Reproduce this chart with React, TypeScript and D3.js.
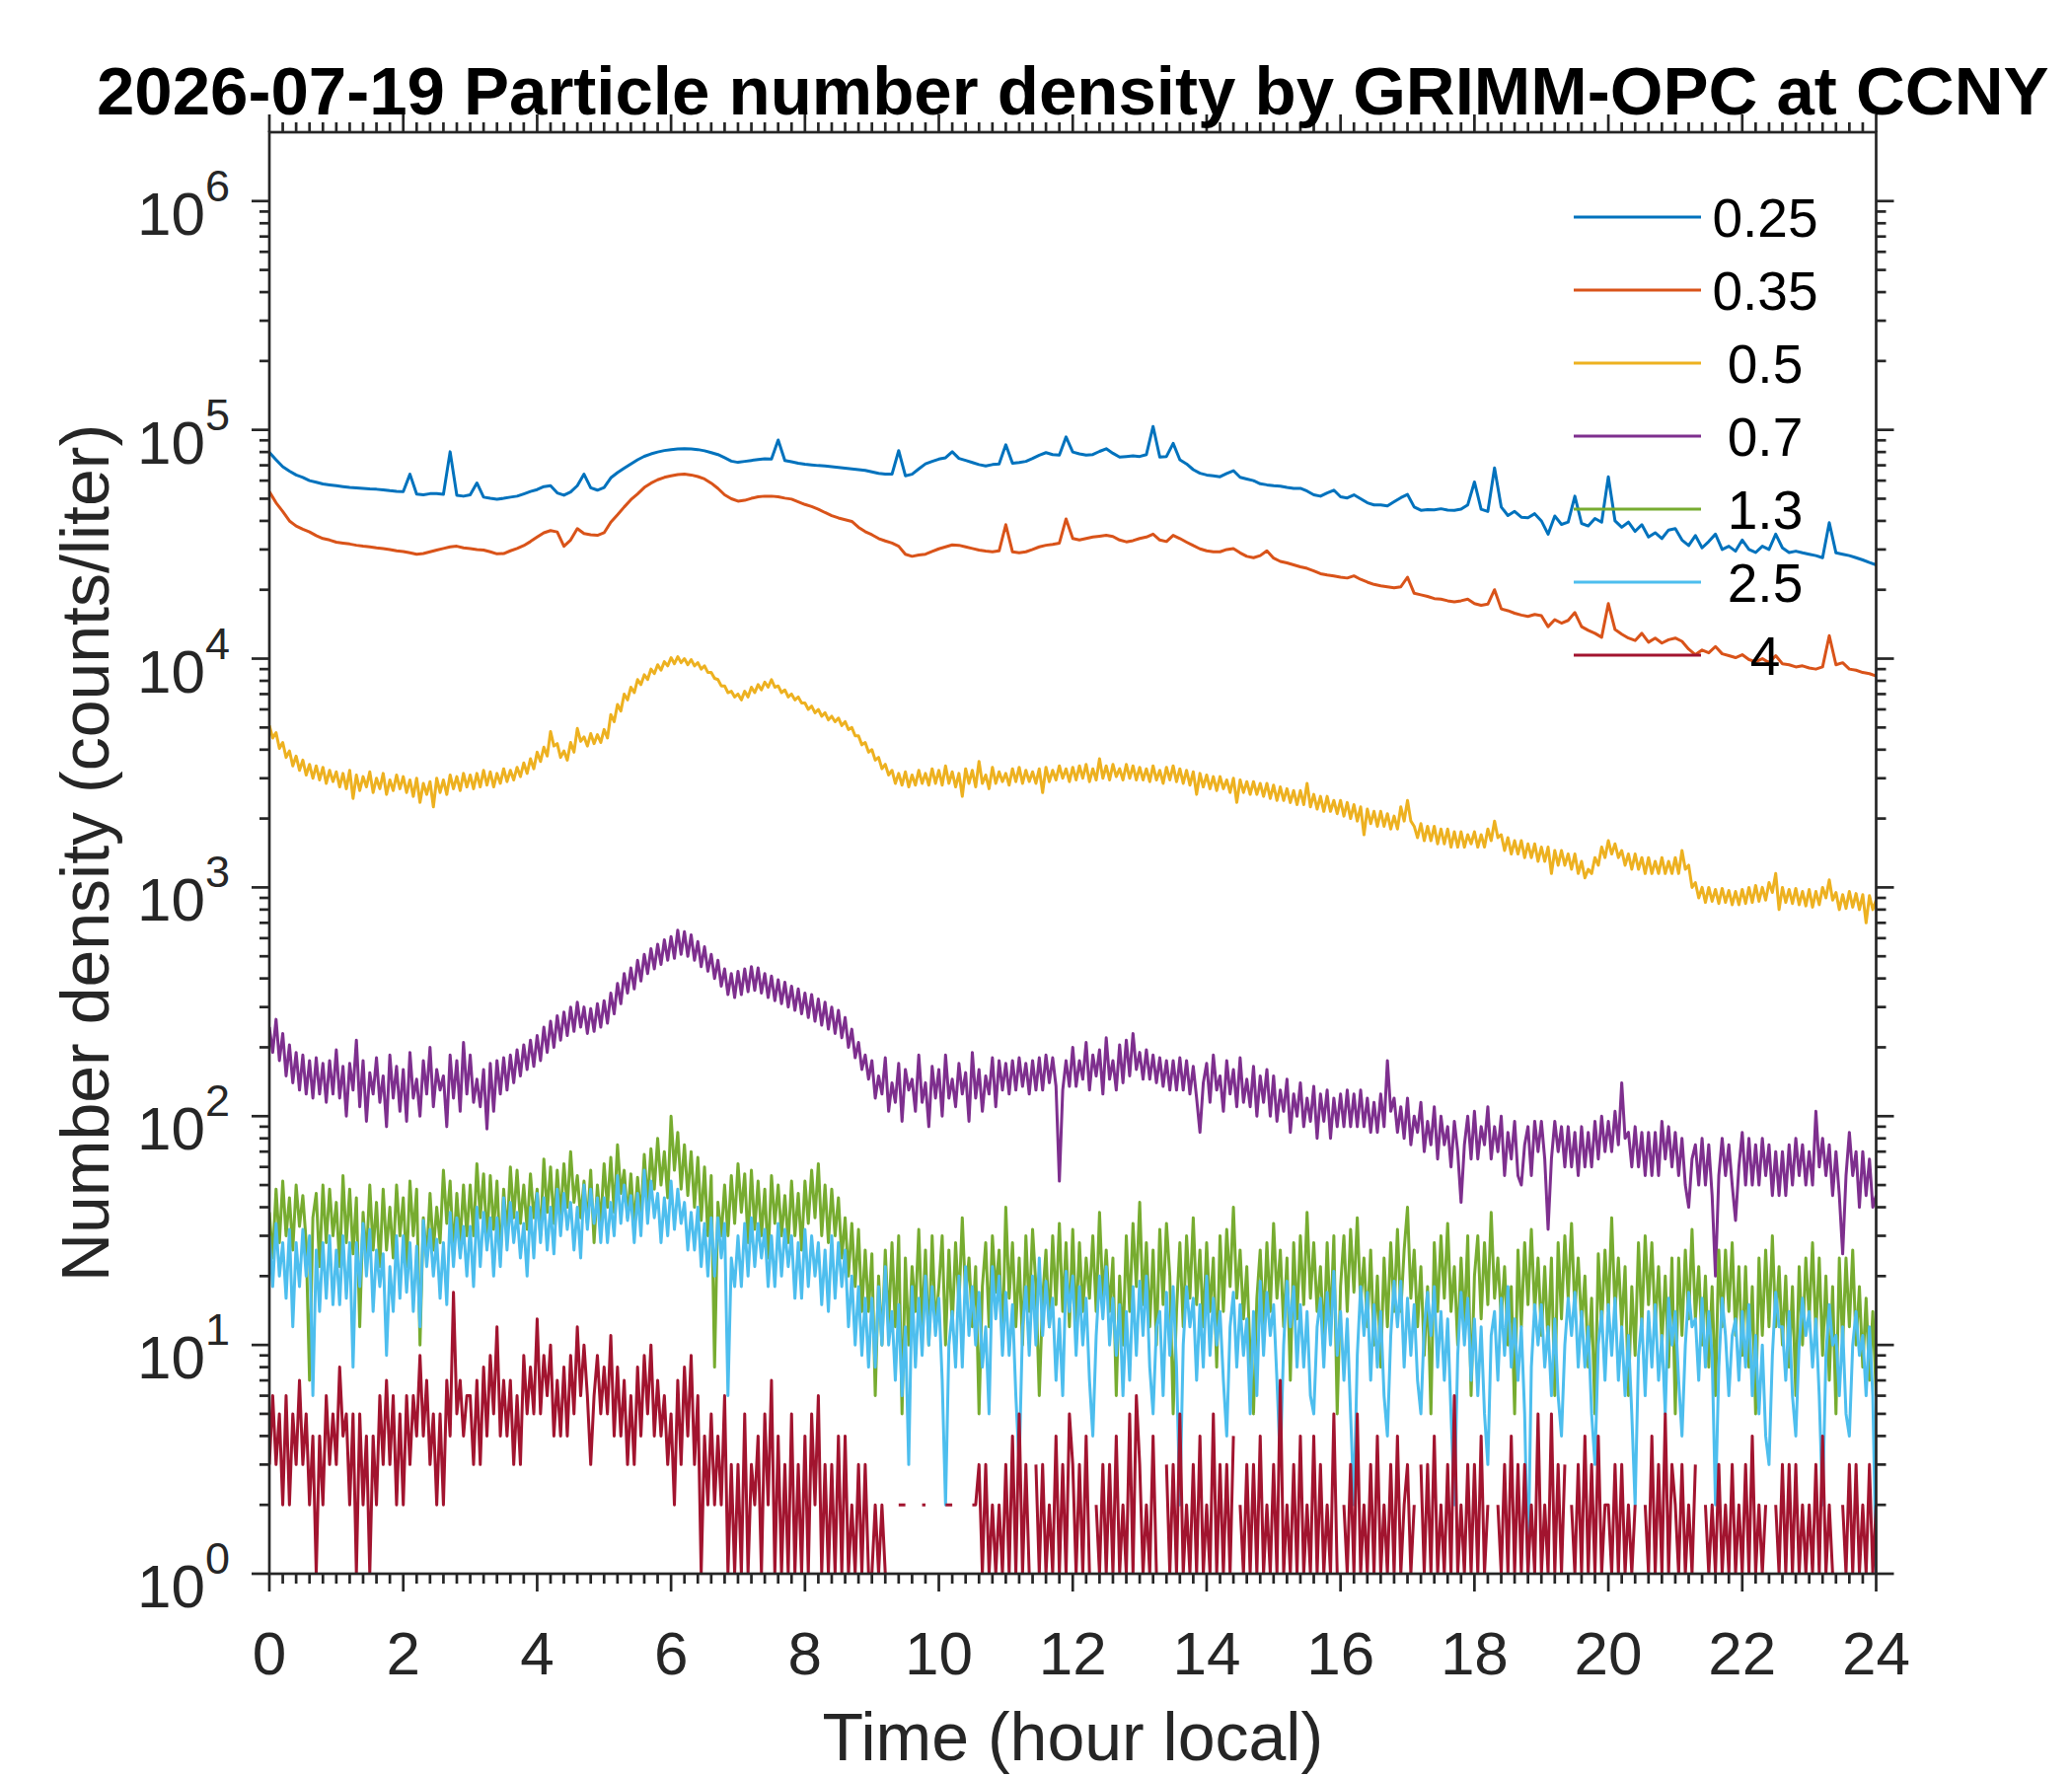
import React from 'react';
import * as d3 from 'd3';

const W = 2100;
const H = 1800;
const PLOT = { left: 273, right: 1901.5, top: 134, bottom: 1595 };
const FONT = '"Liberation Sans", Arial, Helvetica, sans-serif';
const AXIS_COLOR = '#262626';

const TITLE = '2026-07-19 Particle number density by GRIMM-OPC at CCNY';
const X_LABEL = 'Time (hour local)';
const Y_LABEL = 'Number density (counts/liter)';

const SIZE_LABELS = ['0.25', '0.35', '0.5', '0.7', '1.3', '2.5', '4'];
const COLORS = ['#0072BD', '#D95319', '#EDB120', '#7E2F8E', '#77AC30', '#4DBEEE', '#A2142F'];
const X_DOMAIN = [0, 24];
const Y_DOMAIN = [1, 2e6];
const X_TICKS = [0, 2, 4, 6, 8, 10, 12, 14, 16, 18, 20, 22, 24];
const Y_DECADES = [0, 1, 2, 3, 4, 5, 6];
// sampling interval (hours) of each series below
const SERIES_STEP = [0.1, 0.1, 0.05, 0.05, 0.05, 0.05, 0.05];

// 0.25 um channel (counts/liter), one value every 0.1 h
const N025 = [
  79600, 74000, 69000, 66000, 63500, 62000, 60000, 59000, 58000, 57500,
  57000, 56500, 56000, 55800, 55500, 55200, 55000, 54600, 54200, 53900,
  53700, 64000, 52400, 52000, 52600, 52700, 52300, 80200, 51800, 51300,
  52000, 58600, 50800, 50200, 49700, 50200, 50800, 51300, 52500, 53800,
  54800, 56500, 57000, 53000, 51800, 53500, 57000, 64000, 55800, 54500,
  56000, 61700, 65000, 68000, 71000, 74000, 76600, 78500, 80000, 81200,
  82000, 82500, 82700, 82500, 82000, 81000, 79500, 78000, 75500, 73000,
  72100, 72800, 73500, 74200, 74800, 74500, 90300, 73500, 72500, 71500,
  70800, 70300, 69800, 69500, 69000, 68500, 68000, 67500, 67000, 66500,
  65500, 64500, 64100, 64000, 81100, 63000, 64000, 67500, 71000, 72800,
  74500, 75500, 80200, 75000, 73500, 72000, 70500, 69500, 70500, 71000,
  86000, 71500, 72000, 72800, 75000, 77500, 79500, 78000, 77500, 93100,
  80000, 78500, 77500, 78000, 80500, 82700, 79000, 76000, 76500, 77000,
  76500, 78000, 103500, 76000, 76500, 87300, 74000, 71000, 67000, 64600,
  63500, 63000, 62400, 64500, 66300, 62000, 61000, 60000, 58100, 57500,
  57000, 56700, 56000, 55500, 55500, 54000, 52000, 51300, 53000, 54500,
  51000, 50400, 52000, 50000, 48000, 47000, 47000, 46500, 48500, 50500,
  52200, 46000, 44500, 44800, 44700, 45200, 44600, 44500, 45000, 47000,
  59200, 45000, 44000, 68100, 46000, 42200, 44000, 41500, 41300, 43000,
  40000, 35000, 42000, 38600, 39500, 51300, 39000, 38000, 41000, 39500,
  62400, 40000, 37500, 39500, 36000, 38500, 34000, 35500, 33500, 36500,
  37000, 33000, 31200, 34500, 30500, 32500, 35000, 30000, 31000, 29500,
  33000, 30000, 29100, 31000, 30000, 35000, 30500, 29100, 29500, 29000,
  28600, 28200, 27600, 39300, 29000, 28600, 28200, 27600, 27000, 26300,
  25700,
];

// 0.35 um channel, every 0.1 h
const N035 = [
  53700, 48000, 44000, 40000, 38000, 36800, 35800, 34500, 33500, 33000,
  32300, 32000, 31700, 31300, 31000, 30800, 30500, 30300, 30000, 29600,
  29400, 29000, 28600, 28800, 29300, 29800, 30300, 30800, 31000, 30500,
  30300, 30000, 29800, 29300, 28700, 28800, 29600, 30300, 31200, 32500,
  34000, 35500, 36300, 35800, 31000, 33000, 37000, 35200, 34800, 34600,
  35500, 39500, 42500, 46000, 49500, 52500, 56000, 58500, 60500, 62000,
  63000, 63800, 64100, 63500, 62500, 61000, 58500, 55500, 52000, 50000,
  48800, 49200, 50200, 51000, 51300, 51300, 51000, 50300, 49800, 48500,
  47200, 46200, 45000, 43500, 42200, 41200, 40500, 39800, 37500, 35900,
  34800, 33500, 32700, 32000, 31000, 28600, 28000, 28400, 28600, 29400,
  30200, 30800, 31400, 31300, 30800, 30300, 29800, 29500, 29300, 29600,
  38500, 29300, 29000, 29300, 30000, 30800, 31300, 31600, 32000, 40800,
  33500, 33000, 33500, 34000, 34300, 34600, 34200, 33000, 32400, 32800,
  33500, 34000, 35000, 33000, 32500, 34600, 33500, 32300, 31200, 30200,
  29600, 29300, 29300, 30000, 30300, 29000, 28000, 27600, 28200, 29600,
  27500, 26600, 26200, 25700, 25200, 24800, 24200, 23500, 23200, 23000,
  22700, 22500, 23000, 22200, 21600, 21100, 20800, 20600, 20400, 20600,
  22700, 19300, 19000, 18700, 18300, 18200, 17900, 17700, 17900, 18200,
  17400, 17100, 17300, 20000, 16500, 16200, 15800, 15500, 15300, 15600,
  15400, 13800, 14800, 14300, 14700, 15900, 13800, 13300, 12900, 12400,
  17400, 13400, 12800, 12300, 12000, 12900, 11800, 12300, 11700, 12100,
  12300, 11900, 11000, 10400, 10900, 10600, 11300, 10500, 10300, 10100,
  10400, 9900, 9700, 10000, 9600, 10300, 9500, 9400, 9200, 9300,
  9100, 9000, 9200, 12600, 9400, 9600, 9000, 8900, 8700, 8600,
  8400,
];

// 0.5 um channel, every 0.05 h (one row per hour)
const N05 = [
  5100, 4500, 4750, 4050, 4300, 3700, 3950, 3400, 3750, 3250, 3600, 3100, 3450, 3000, 3400, 2950, 3350, 2850, 3250, 2900,
  3200, 2750, 3150, 2700, 3250, 2450, 3100, 2650, 3050, 2750, 3200, 2600, 3000, 2700, 3150, 2550, 2950, 2650, 3100, 2700,
  3050, 2600, 2950, 2500, 3000, 2350, 2850, 2550, 2900, 2250, 3000, 2600, 2950, 2550, 3100, 2700, 3050, 2650, 3150, 2750,
  3100, 2700, 3150, 2750, 3250, 2800, 3200, 2750, 3150, 2850, 3300, 2900, 3250, 2950, 3350, 3050, 3500, 3150, 3650, 3300,
  3900, 3550, 4100, 3750, 4800, 4150, 4250, 3700, 3950, 3600, 4300, 3900, 4950, 4350, 4550, 4150, 4700, 4250, 4650, 4300,
  4900, 4500, 5700, 5300, 6300, 5900, 7000, 6600, 7500, 7100, 8100, 7700, 8500, 8100, 9000, 8600, 9400, 8900, 9700, 9300,
  10100, 9500, 10200, 9600, 10000, 9400, 9900, 9300, 9600, 9000, 9300, 8700, 8700, 8200, 8100, 7600, 7600, 7100, 7200, 6800,
  7000, 6600, 7200, 6800, 7500, 7100, 7700, 7300, 7900, 7500, 8100, 7500, 7600, 7100, 7300, 6800, 7000, 6600, 6800, 6400,
  6400, 6000, 6200, 5800, 6000, 5600, 5800, 5400, 5600, 5300, 5500, 5100, 5300, 4900, 5000, 4600, 4600, 4200, 4300, 3900,
  4000, 3600, 3700, 3300, 3450, 3100, 3250, 2850, 3150, 2800, 3200, 2750, 3100, 2800, 3250, 2850, 3150, 2800, 3300, 2850,
  3250, 2800, 3400, 2850, 3200, 2750, 3150, 2500, 3300, 2850, 3250, 2750, 3550, 2850, 3100, 2700, 3350, 2850, 3200, 2900,
  3150, 2800, 3300, 2900, 3350, 2850, 3250, 2900, 3200, 2850, 3300, 2600, 3350, 2900, 3250, 2950, 3400, 3000, 3300, 2900,
  3350, 2950, 3400, 3000, 3450, 2900, 3300, 2950, 3650, 3000, 3400, 2950, 3450, 3050, 3300, 2950, 3450, 3000, 3400, 2950,
  3350, 2950, 3300, 2900, 3400, 2950, 3250, 2850, 3350, 2950, 3400, 2900, 3300, 2850, 3250, 2800, 3200, 2550, 3150, 2750,
  3100, 2700, 3050, 2650, 3050, 2700, 2950, 2600, 3000, 2350, 2950, 2600, 2900, 2550, 2900, 2550, 2850, 2500, 2850, 2450,
  2800, 2400, 2750, 2400, 2700, 2350, 2650, 2300, 2650, 2300, 2850, 2250, 2550, 2200, 2500, 2150, 2500, 2150, 2400, 2100,
  2400, 2050, 2350, 2000, 2300, 1950, 2250, 1700, 2200, 1900, 2150, 1850, 2150, 1850, 2100, 1800, 2050, 1800, 2250, 1950,
  2400, 1950, 1850, 1650, 1900, 1600, 1850, 1600, 1850, 1550, 1800, 1550, 1800, 1500, 1750, 1500, 1750, 1500, 1700, 1550,
  1750, 1500, 1700, 1500, 1800, 1600, 1950, 1650, 1700, 1450, 1650, 1400, 1600, 1400, 1600, 1350, 1550, 1350, 1550, 1300,
  1500, 1300, 1500, 1150, 1450, 1250, 1450, 1250, 1400, 1200, 1400, 1150, 1300, 1100, 1200, 1150, 1350, 1250, 1500, 1350,
  1600, 1400, 1550, 1350, 1450, 1250, 1400, 1200, 1400, 1200, 1350, 1150, 1350, 1150, 1300, 1150, 1350, 1150, 1300, 1150,
  1350, 1150, 1450, 1200, 1250, 1000, 1050, 900, 1000, 860, 1000, 870, 980, 850, 990, 860, 970, 840, 960, 840,
  980, 850, 1000, 860, 1020, 870, 1000, 880, 1050, 950, 1150, 800, 1000, 860, 980, 850, 990, 840, 960, 830,
  980, 820, 960, 840, 1000, 900, 1080, 880, 950, 800, 930, 810, 960, 820, 940, 800, 930, 700, 920, 800,
  880,
];

// 0.7 um channel, every 0.05 h
const N07 = [
  245, 190, 265, 175, 230, 150, 205, 140, 190, 130, 185, 125, 175, 120, 180, 125, 170, 115, 175, 125,
  195, 120, 165, 100, 170, 130, 215, 110, 175, 95, 155, 125, 180, 115, 150, 90, 185, 120, 165, 105,
  160, 95, 190, 120, 145, 100, 175, 125, 200, 110, 160, 130, 150, 90, 185, 120, 175, 105, 210, 125,
  185, 115, 145, 110, 160, 88, 170, 105, 175, 125, 180, 130, 185, 140, 195, 150, 205, 160, 215, 165,
  225, 175, 245, 190, 260, 200, 275, 215, 285, 225, 300, 235, 315, 245, 300, 230, 295, 235, 310, 245,
  320, 255, 345, 280, 380, 310, 420, 345, 445, 360, 480, 390, 510, 420, 540, 440, 565, 460, 590, 480,
  610, 490, 650, 510, 640, 500, 620, 480, 580, 450, 550, 430, 510, 400, 480, 370, 440, 340, 420, 330,
  430, 340, 440, 350, 450, 355, 445, 345, 420, 330, 410, 320, 395, 310, 385, 300, 370, 290, 360, 280,
  345, 270, 340, 260, 325, 250, 315, 240, 300, 230, 290, 220, 270, 200, 240, 180, 210, 160, 185, 145,
  175, 120, 150, 125, 180, 105, 140, 115, 170, 95, 160, 130, 145, 105, 185, 115, 140, 90, 165, 120,
  160, 100, 185, 120, 145, 110, 170, 125, 155, 95, 190, 120, 160, 105, 150, 125, 180, 110, 175, 130,
  170, 125, 175, 130, 180, 135, 170, 125, 175, 130, 180, 130, 185, 140, 180, 135, 52, 130, 175, 135,
  200, 135, 175, 145, 210, 130, 185, 150, 195, 125, 220, 145, 175, 130, 205, 140, 215, 150, 230, 160,
  190, 145, 195, 145, 185, 140, 180, 135, 175, 130, 175, 130, 180, 130, 175, 125, 165, 120, 85, 140,
  170, 115, 185, 130, 150, 105, 175, 125, 160, 110, 180, 115, 145, 110, 165, 100, 150, 115, 160, 100,
  150, 95, 130, 105, 145, 85, 125, 100, 140, 90, 120, 95, 135, 80, 125, 95, 130, 80, 120, 90,
  125, 90, 130, 90, 125, 90, 130, 90, 120, 85, 115, 85, 125, 90, 175, 105, 120, 85, 110, 80,
  120, 75, 100, 85, 115, 70, 95, 75, 110, 65, 100, 75, 90, 60, 95, 70, 42, 75, 100, 65,
  105, 65, 90, 75, 110, 65, 90, 70, 100, 55, 85, 65, 95, 55, 50, 75, 90, 55, 95, 70,
  95, 65, 32, 65, 95, 70, 90, 60, 90, 60, 85, 55, 90, 60, 85, 60, 95, 65, 100, 70,
  95, 70, 105, 75, 140, 80, 85, 60, 90, 60, 85, 55, 85, 55, 85, 55, 95, 65, 90, 60,
  85, 55, 80, 50, 40, 65, 75, 50, 80, 50, 75, 45, 20, 55, 80, 55, 75, 50, 35, 60,
  85, 50, 80, 50, 75, 50, 80, 55, 75, 45, 70, 45, 70, 45, 75, 50, 80, 55, 75, 50,
  70, 50, 105, 60, 80, 55, 75, 45, 70, 45, 25, 55, 85, 55, 70, 40, 70, 45, 65, 40,
  45,
];

// 1.3 um channel, every 0.05 h
const N13 = [
  38, 24, 48, 28, 52, 30, 44, 26, 50, 33, 45, 28, 7, 36, 46, 22, 50, 28, 48, 30,
  42, 22, 55, 28, 48, 25, 44, 12, 38, 24, 50, 26, 42, 22, 48, 26, 40, 24, 50, 30,
  44, 22, 52, 30, 48, 10, 36, 24, 46, 26, 40, 28, 58, 34, 52, 25, 46, 28, 50, 30,
  50, 30, 62, 36, 56, 28, 55, 32, 52, 24, 48, 30, 60, 36, 58, 34, 50, 32, 56, 36,
  48, 30, 65, 38, 60, 34, 58, 36, 62, 40, 70, 42, 55, 36, 52, 34, 58, 28, 50, 34,
  62, 40, 66, 38, 75, 46, 58, 36, 56, 33, 54, 36, 68, 42, 72, 48, 80, 50, 70, 44,
  100, 58, 85, 48, 75, 45, 70, 40, 66, 35, 60, 30, 55, 8, 42, 30, 50, 30, 55, 34,
  62, 38, 56, 28, 58, 32, 52, 30, 48, 24, 55, 34, 50, 30, 45, 28, 52, 30, 46, 26,
  52, 34, 58, 36, 62, 30, 50, 28, 48, 30, 44, 24, 36, 20, 34, 18, 32, 14, 26, 14,
  25, 6, 20, 10, 26, 12, 28, 12, 30, 5, 24, 10, 22, 14, 32, 12, 26, 10, 30, 12,
  18, 30, 10, 26, 12, 28, 15, 36, 16, 24, 12, 22, 5, 18, 28, 12, 30, 17, 26, 10,
  40, 16, 28, 12, 24, 10, 30, 14, 32, 18, 6, 16, 26, 12, 30, 15, 34, 14, 28, 12,
  32, 12, 28, 14, 24, 16, 30, 14, 38, 16, 26, 14, 24, 6, 20, 10, 30, 14, 34, 18,
  42, 15, 28, 12, 26, 10, 32, 15, 34, 20, 5, 14, 28, 12, 30, 16, 36, 15, 26, 12,
  28, 14, 24, 8, 30, 14, 32, 18, 40, 16, 26, 13, 22, 9, 5, 16, 26, 12, 28, 14,
  34, 16, 26, 12, 24, 7, 28, 13, 30, 15, 38, 16, 28, 14, 22, 10, 28, 12, 30, 5,
  18, 30, 14, 32, 17, 36, 15, 24, 12, 26, 10, 20, 8, 24, 12, 28, 14, 32, 14, 26,
  40, 16, 26, 12, 22, 9, 18, 5, 28, 14, 30, 16, 34, 14, 22, 10, 24, 12, 30, 6,
  20, 30, 13, 28, 15, 38, 16, 24, 13, 22, 10, 18, 5, 26, 12, 28, 15, 32, 14, 24,
  11, 22, 10, 24, 6, 28, 13, 30, 16, 34, 14, 24, 12, 20, 8, 16, 5, 25, 12, 26,
  14, 36, 14, 24, 12, 22, 6, 18, 9, 28, 12, 30, 15, 28, 12, 22, 10, 20, 8, 24,
  5, 24, 11, 26, 13, 32, 13, 22, 10, 20, 8, 18, 6, 26, 12, 26, 14, 28, 11, 22,
  9, 22, 8, 18, 5, 24, 11, 26, 12, 30, 12, 22, 10, 20, 8, 18, 6, 22, 10, 24,
  13, 28, 11, 24, 9, 20, 7, 18, 5, 24, 10, 24, 12, 26, 10, 18, 8, 16, 7, 14,
  6,
];

// 2.5 um channel, every 0.05 h
const N25 = [
  30, 18, 34, 20, 28, 16, 32, 12, 28, 18, 32, 20, 30, 6, 26, 14, 28, 16, 30, 15,
  26, 15, 30, 16, 28, 8, 28, 18, 34, 20, 32, 14, 26, 18, 25, 9, 22, 14, 30, 16,
  30, 17, 28, 14, 27, 12, 35, 22, 32, 20, 29, 16, 28, 15, 38, 22, 36, 24, 33, 20,
  33, 18, 40, 22, 38, 26, 36, 20, 36, 22, 44, 26, 42, 28, 38, 24, 34, 20, 40, 24,
  46, 28, 44, 26, 40, 25, 48, 30, 46, 32, 42, 26, 40, 24, 50, 32, 48, 34, 44, 28,
  44, 28, 42, 30, 55, 34, 50, 35, 45, 28, 46, 30, 58, 34, 52, 36, 46, 28, 44, 30,
  52, 32, 48, 34, 42, 26, 38, 26, 40, 22, 34, 20, 36, 20, 36, 24, 34, 6, 24, 18,
  30, 18, 34, 20, 36, 22, 34, 24, 32, 18, 30, 18, 34, 20, 32, 22, 30, 16, 28, 16,
  32, 18, 30, 20, 28, 15, 26, 14, 30, 16, 28, 18, 26, 12, 20, 10, 18, 9, 16, 8,
  16, 8, 18, 10, 22, 10, 14, 7, 15, 6, 12, 3, 18, 8, 16, 9, 20, 10, 18, 11,
  16, 7, 2, 10, 14, 8, 20, 8, 22, 11, 18, 10, 17, 8, 12, 5, 22, 13, 20, 9,
  17, 9, 15, 6, 3, 12, 18, 9, 20, 10, 24, 11, 19, 12, 16, 7, 13, 6, 21, 14,
  20, 9, 18, 10, 16, 7, 4, 11, 20, 13, 22, 10, 16, 9, 15, 6, 14, 7, 18, 9,
  19, 11, 20, 8, 5, 12, 14, 6, 17, 9, 18, 8, 2, 10, 18, 12, 16, 7, 15, 8,
  20, 9, 16, 10, 14, 7, 4, 12, 17, 8, 15, 9, 13, 5, 14, 6, 19, 9, 17, 11,
  15, 7, 3, 10, 19, 12, 18, 8, 15, 8, 14, 6, 5, 12, 16, 8, 17, 10, 21, 9,
  14, 7, 13, 5, 2, 9, 18, 11, 17, 7, 15, 8, 14, 6, 4, 11, 19, 12, 19, 8,
  16, 9, 15, 7, 5, 12, 17, 11, 18, 8, 14, 7, 13, 5, 2, 9, 17, 10, 16, 7,
  13, 6, 12, 5, 3, 11, 14, 7, 16, 9, 18, 8, 13, 7, 12, 5, 1, 8, 15, 10,
  15, 8, 12, 6, 13, 6, 4, 10, 16, 11, 17, 8, 14, 8, 12, 5, 3, 10, 14, 7,
  15, 9, 16, 7, 12, 6, 11, 5, 2, 9, 13, 6, 14, 8, 15, 7, 11, 5, 16, 10,
  14, 7, 4, 10, 17, 12, 13, 7, 16, 8, 14, 9, 2, 8, 16, 11, 6, 11, 13, 7,
  14, 8, 15, 6, 11, 5, 10, 4, 3, 9, 17, 12, 12, 7, 14, 6, 4, 10, 16, 11,
  14, 8, 13, 6, 2, 9, 15, 10, 11, 6, 12, 5, 4, 10, 14, 9, 11, 6, 12, 6,
  1,
];

// 4 um channel, every 0.05 h (0 = no count, not drawn on the log axis)
const N4 = [
  3, 6, 3, 5, 2, 6, 2, 5, 3, 7, 3, 5, 2, 4, 1, 4, 2, 6, 3, 5,
  3, 8, 4, 5, 2, 5, 1, 5, 2, 4, 1, 4, 2, 6, 3, 7, 3, 6, 2, 5,
  2, 6, 3, 6, 4, 9, 4, 7, 3, 5, 2, 5, 2, 7, 4, 17, 5, 7, 4, 6,
  6, 3, 7, 3, 8, 4, 9, 5, 12, 4, 7, 4, 7, 3, 6, 3, 9, 5, 8, 5,
  13, 5, 9, 6, 10, 4, 7, 4, 8, 4, 9, 5, 12, 6, 10, 6, 3, 6, 9, 5,
  8, 5, 11, 4, 8, 4, 7, 3, 6, 3, 8, 4, 9, 5, 10, 4, 7, 4, 6, 3,
  5, 2, 7, 3, 8, 4, 9, 3, 6, 1, 4, 2, 5, 2, 4, 2, 6, 1, 3, 1,
  3, 1, 5, 1, 3, 2, 4, 1, 5, 2, 7, 1, 4, 1, 3, 1, 5, 1, 3, 1,
  4, 1, 5, 2, 6, 1, 3, 1, 3, 1, 4, 1, 4, 1, 2, 1, 3, 1, 3, 1,
  1, 2, 1, 2, 1, 0, 0, 0, 2, 2, 2, 0, 0, 0, 0, 2, 2, 0, 0, 0,
  0, 0, 2, 2, 2, 0, 0, 0, 0, 0, 2, 2, 3, 1, 3, 1, 2, 1, 2, 1,
  3, 1, 4, 1, 5, 1, 3, 1, 0, 3, 1, 3, 1, 2, 1, 4, 1, 3, 1, 5,
  3, 1, 3, 1, 4, 1, 0, 2, 1, 3, 1, 3, 1, 4, 1, 2, 1, 5, 1, 6,
  3, 1, 2, 1, 4, 1, 0, 0, 3, 1, 3, 1, 5, 1, 2, 1, 3, 1, 4, 1,
  2, 1, 5, 1, 3, 1, 3, 1, 4, 0, 2, 1, 3, 1, 3, 1, 4, 1, 2, 1,
  3, 1, 7, 1, 2, 1, 3, 1, 4, 1, 2, 1, 4, 1, 3, 1, 2, 1, 5, 1,
  0, 2, 1, 3, 1, 5, 1, 2, 1, 3, 1, 4, 1, 2, 1, 3, 1, 4, 1, 2,
  3, 1, 2, 0, 3, 1, 3, 1, 4, 1, 2, 1, 3, 1, 6, 1, 2, 1, 3, 1,
  3, 1, 4, 1, 2, 0, 0, 2, 1, 3, 1, 4, 1, 3, 1, 3, 1, 2, 1, 5,
  1, 2, 1, 5, 1, 3, 1, 3, 0, 2, 1, 3, 1, 4, 1, 3, 1, 4, 1, 2,
  2, 1, 3, 1, 3, 1, 2, 1, 2, 0, 0, 2, 1, 4, 1, 3, 1, 5, 1, 3,
  2, 1, 3, 1, 2, 1, 3, 0, 0, 2, 1, 2, 1, 3, 1, 2, 1, 3, 1, 2,
  1, 3, 1, 4, 1, 2, 1, 2, 0, 0, 2, 1, 3, 1, 3, 1, 3, 1, 2, 1,
  2, 1, 3, 1, 4, 1, 2, 1, 0, 0, 2, 1, 3, 1, 3, 1, 2, 1, 3, 1,
  2,
];

const SERIES = [N025, N035, N05, N07, N13, N25, N4];

export default function App() {
  const x = d3.scaleLinear().domain(X_DOMAIN).range([PLOT.left, PLOT.right]);
  const y = d3.scaleLog().domain(Y_DOMAIN).range([PLOT.bottom, PLOT.top]);

  const makeLine = (step: number) =>
    d3
      .line<number>()
      .defined((v) => v > 0)
      .x((_, i) => x(i * step))
      .y((v) => y(v));

  const majorLen = 18;
  const minorLen = 10;

  const xMinor = d3.range(0, 24.0001, 0.2).filter((t) => Math.abs(t / 2 - Math.round(t / 2)) > 1e-6);
  const yMinor: number[] = [];
  Y_DECADES.forEach((k) => {
    for (let m = 2; m <= 9; m++) {
      const v = m * Math.pow(10, k);
      if (v < Y_DOMAIN[1]) yMinor.push(v);
    }
  });

  const cx = (PLOT.left + PLOT.right) / 2;
  const cy = (PLOT.top + PLOT.bottom) / 2;

  const legendRows = SIZE_LABELS.map((_, i) => 220 + i * 74);

  return (
    <svg
      width={W}
      height={H}
      viewBox={`0 0 ${W} ${H}`}
      style={{ position: 'absolute', left: 0, top: 0, background: '#fff' }}
      fontFamily={FONT}
    >
      <rect x={0} y={0} width={W} height={H} fill="#fff" />
      <defs>
        <clipPath id="plotClip">
          <rect x={PLOT.left} y={PLOT.top} width={PLOT.right - PLOT.left} height={PLOT.bottom - PLOT.top} />
        </clipPath>
      </defs>

      {/* data */}
      <g clipPath="url(#plotClip)">
        {SERIES.map((s, i) => (
          <path
            key={SIZE_LABELS[i]}
            d={makeLine(SERIES_STEP[i])(s) || ''}
            fill="none"
            stroke={COLORS[i]}
            strokeWidth={3.0}
            strokeLinejoin="round"
          />
        ))}
      </g>

      {/* axes box and ticks */}
      <g stroke={AXIS_COLOR} strokeWidth={2.7} fill="none">
        <rect x={PLOT.left} y={PLOT.top} width={PLOT.right - PLOT.left} height={PLOT.bottom - PLOT.top} />
        {X_TICKS.map((t) => (
          <g key={'xt' + t}>
            <line x1={x(t)} x2={x(t)} y1={PLOT.bottom} y2={PLOT.bottom + majorLen} />
            <line x1={x(t)} x2={x(t)} y1={PLOT.top} y2={PLOT.top - majorLen} />
          </g>
        ))}
        {xMinor.map((t) => (
          <g key={'xm' + t}>
            <line x1={x(t)} x2={x(t)} y1={PLOT.bottom} y2={PLOT.bottom + minorLen} />
            <line x1={x(t)} x2={x(t)} y1={PLOT.top} y2={PLOT.top - minorLen} />
          </g>
        ))}
        {Y_DECADES.map((k) => {
          const yy = y(Math.pow(10, k));
          return (
            <g key={'yt' + k}>
              <line x1={PLOT.left} x2={PLOT.left - majorLen} y1={yy} y2={yy} />
              <line x1={PLOT.right} x2={PLOT.right + majorLen} y1={yy} y2={yy} />
            </g>
          );
        })}
        {yMinor.map((v) => {
          const yy = y(v);
          return (
            <g key={'ym' + v}>
              <line x1={PLOT.left} x2={PLOT.left - minorLen} y1={yy} y2={yy} />
              <line x1={PLOT.right} x2={PLOT.right + minorLen} y1={yy} y2={yy} />
            </g>
          );
        })}
      </g>

      {/* tick labels */}
      <g fill={AXIS_COLOR} fontSize={62}>
        {X_TICKS.map((t) => (
          <text key={'xl' + t} x={x(t)} y={1697} textAnchor="middle">
            {t}
          </text>
        ))}
        {Y_DECADES.map((k) => (
          <text key={'yl' + k} x={233} y={y(Math.pow(10, k)) + 34} textAnchor="end">
            10
            <tspan dy={-34} fontSize={45}>
              {k}
            </tspan>
          </text>
        ))}
      </g>

      {/* axis labels */}
      <text x={cx} y={1784} textAnchor="middle" fontSize={68} fill={AXIS_COLOR}>
        {X_LABEL}
      </text>
      <text
        transform={`translate(110, ${cy}) rotate(-90)`}
        textAnchor="middle"
        fontSize={68}
        fill={AXIS_COLOR}
      >
        {Y_LABEL}
      </text>

      {/* title */}
      <text x={cx} y={116} textAnchor="middle" fontSize={69} fontWeight="bold" fill="#000">
        {TITLE}
      </text>

      {/* legend */}
      <g>
        {SIZE_LABELS.map((lab, i) => (
          <g key={'lg' + lab}>
            <line x1={1595} x2={1724} y1={legendRows[i]} y2={legendRows[i]} stroke={COLORS[i]} strokeWidth={3.0} />
            <text x={1789} y={legendRows[i] + 20} textAnchor="middle" fontSize={55} fill="#000">
              {lab}
            </text>
          </g>
        ))}
      </g>
    </svg>
  );
}
